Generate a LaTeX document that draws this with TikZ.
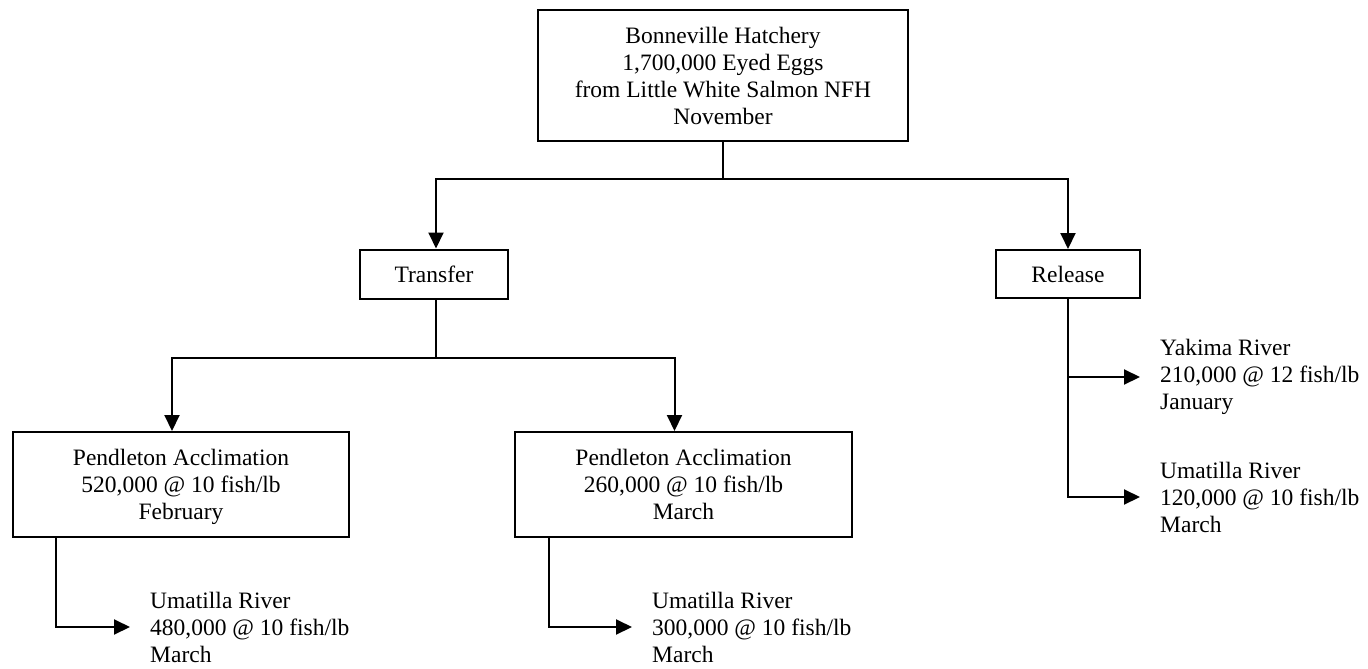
\documentclass[tikz,border=0pt]{standalone}
\usepackage{fontspec}
\setmainfont{Liberation Serif}
\usetikzlibrary{arrows.meta,positioning}

\begin{document}
\begin{tikzpicture}[x=1pt,y=-1pt,>={Triangle[length=16pt,width=15pt]},
  box/.style={draw,line width=2pt,align=center,font=\fontsize{23.5}{27}\selectfont},
  dest/.style={align=left,anchor=west,inner sep=0pt,font=\fontsize{23.5}{27}\selectfont},
  link/.style={line width=2pt}]
\useasboundingbox (0,0) rectangle (1368,669);
\node[box,minimum width=370pt,minimum height=131pt] (hatch) at (723,75.5) {Bonneville Hatchery\\1,700,000 Eyed Eggs\\from Little White Salmon NFH\\November};
\node[box,minimum width=148pt,minimum height=49pt] (transfer) at (434,274) {Transfer};
\node[box,minimum width=144pt,minimum height=48pt] (release) at (1068,274) {Release};
\node[box,minimum width=336pt,minimum height=105pt,text depth=0pt] (pendA) at (181,484.5) {Pendleton Acclimation\\520,000 @ 10 fish/lb\\February};
\node[box,minimum width=337pt,minimum height=105pt,text depth=0pt] (pendB) at (683.5,484.5) {Pendleton Acclimation\\260,000 @ 10 fish/lb\\March};
\node[dest] (yakima) at (1160,377) {Yakima River\\210,000 @ 12 fish/lb\\January};
\node[dest] (umaR) at (1160,497) {Umatilla River\\120,000 @ 10 fish/lb\\March};
\node[dest] (umaA) at (150,627) {Umatilla River\\480,000 @ 10 fish/lb\\March};
\node[dest] (umaB) at (652,627) {Umatilla River\\300,000 @ 10 fish/lb\\March};
\draw[link] (hatch.south) -- ++(0,37) coordinate (split);
\draw[link,->] (split) -| ([xshift=2pt]transfer.north);
\draw[link,->] (split) -| (release.north);
\draw[link] ([xshift=2pt]transfer.south) -- ++(0,58) coordinate (fork);
\draw[link,->] (fork) -| ([xshift=-9pt]pendA.north);
\draw[link,->] (fork) -| ([xshift=-9pt]pendB.north);
\draw[link,->,shorten >=20pt] (release.south) |- (umaR.west);
\draw[link,->,shorten >=20pt] (release.south |- yakima.west) -- (yakima.west);
\draw[link,->,shorten >=20pt] ([xshift=-125pt]pendA.south) |- (umaA.west);
\draw[link,->,shorten >=20pt] ([xshift=-134.5pt]pendB.south) |- (umaB.west);
\end{tikzpicture}
\end{document}
